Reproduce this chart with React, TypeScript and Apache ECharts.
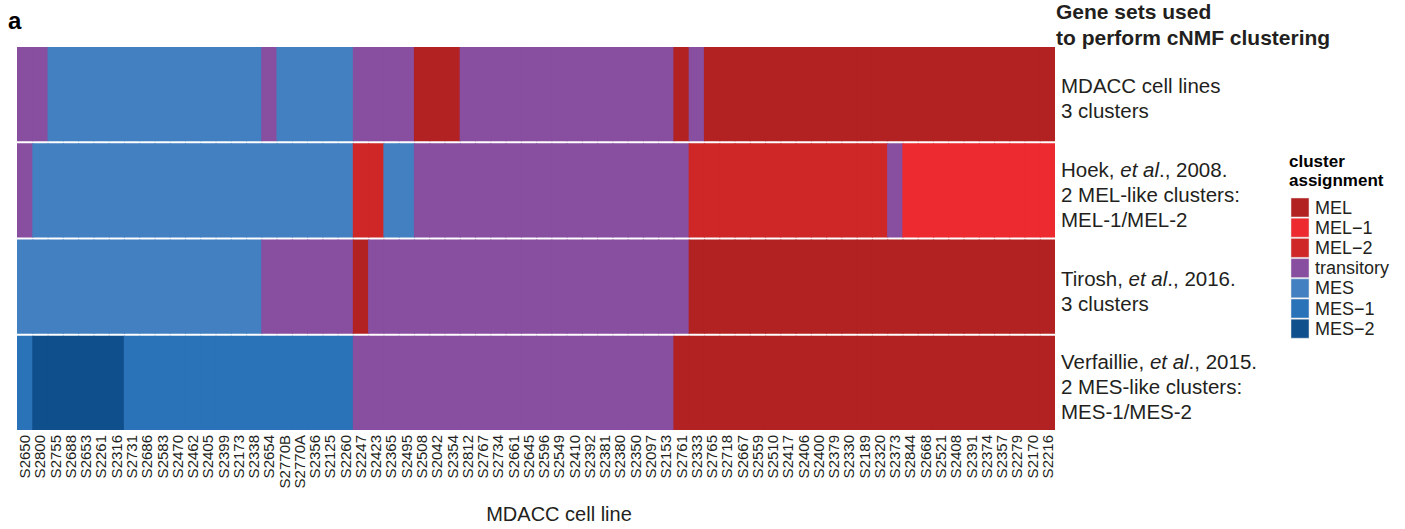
import React, { useEffect, useRef } from "react";
import * as echarts from "echarts";

const FONT = "'Liberation Sans', Arial, Helvetica, sans-serif";
const TXT = "#231f20";

const cellLines = [
  "S2650", "S2800", "S2755", "S2688", "S2653", "S2261", "S2316", "S2731", "S2686", "S2583",
  "S2470", "S2462", "S2405", "S2399", "S2173", "S2338", "S2654", "S2770B", "S2770A", "S2356",
  "S2125", "S2260", "S2247", "S2423", "S2365", "S2495", "S2508", "S2042", "S2354", "S2812",
  "S2767", "S2734", "S2661", "S2645", "S2596", "S2549", "S2410", "S2392", "S2381", "S2380",
  "S2350", "S2097", "S2153", "S2761", "S2333", "S2765", "S2718", "S2667", "S2559", "S2510",
  "S2417", "S2406", "S2400", "S2379", "S2330", "S2189", "S2320", "S2373", "S2844", "S2668",
  "S2521", "S2408", "S2391", "S2374", "S2357", "S2279", "S2170", "S2216",
];

const clusters = ["MEL", "MEL\u22121", "MEL\u22122", "transitory", "MES", "MES\u22121", "MES\u22122"];
const clusterColors = ["#b22222", "#ed2a2f", "#cf2627", "#884ea0", "#4380c2", "#2a73b9", "#0f4f8c"];

// codes: A=MEL, B=MEL-1, C=MEL-2, T=transitory, M=MES, M1=MES-1, M2=MES-2
const A = 0, B = 1, C = 2, T = 3, M = 4, M1 = 5, M2 = 6;

const rowNames = ["MDACC", "Hoek", "Tirosh", "Verfaillie"];

const mdacc = [
  T, T, M, M, M, M, M, M, M, M,
  M, M, M, M, M, M, T, M, M, M,
  M, M, T, T, T, T, A, A, A, T,
  T, T, T, T, T, T, T, T, T, T,
  T, T, T, A, T, A, A, A, A, A,
  A, A, A, A, A, A, A, A, A, A,
  A, A, A, A, A, A, A, A,
];
const hoek = [
  T, M, M, M, M, M, M, M, M, M,
  M, M, M, M, M, M, M, M, M, M,
  M, M, C, C, M, M, T, T, T, T,
  T, T, T, T, T, T, T, T, T, T,
  T, T, T, T, C, C, C, C, C, C,
  C, C, C, C, C, C, C, T, B, B,
  B, B, B, B, B, B, B, B,
];
const tirosh = [
  M, M, M, M, M, M, M, M, M, M,
  M, M, M, M, M, M, T, T, T, T,
  T, T, A, T, T, T, T, T, T, T,
  T, T, T, T, T, T, T, T, T, T,
  T, T, T, T, A, A, A, A, A, A,
  A, A, A, A, A, A, A, A, A, A,
  A, A, A, A, A, A, A, A,
];
const verfaillie = [
  M1, M2, M2, M2, M2, M2, M2, M1, M1, M1,
  M1, M1, M1, M1, M1, M1, M1, M1, M1, M1,
  M1, M1, T, T, T, T, T, T, T, T,
  T, T, T, T, T, T, T, T, T, T,
  T, T, T, A, A, A, A, A, A, A,
  A, A, A, A, A, A, A, A, A, A,
  A, A, A, A, A, A, A, A,
];

const rowLabels: Record<string, string> = {
  MDACC: "MDACC cell lines\n3 clusters",
  Hoek: "Hoek, {i|et al}., 2008.\n2 MEL-like clusters:\nMEL-1/MEL-2",
  Tirosh: "Tirosh, {i|et al}., 2016.\n3 clusters",
  Verfaillie: "Verfaillie, {i|et al}., 2015.\n2 MES-like clusters:\nMES-1/MES-2",
};

export default function App() {
  const ref = useRef<HTMLDivElement>(null);
  useEffect(() => {
    if (!ref.current) return;
    const chart = echarts.init(ref.current, undefined, { renderer: "svg" });
    const rows = [mdacc, hoek, tirosh, verfaillie];
    const data: number[][] = [];
    rows.forEach((r, yi) => r.forEach((v, xi) => data.push([xi, yi, v])));

    const legendItems: any[] = [];
    clusters.forEach((name, i) => {
      const y = 198 + i * 20.2;
      legendItems.push({
        type: "rect",
        shape: { x: 1291, y, width: 18, height: 19 },
        style: { fill: clusterColors[i], stroke: "#e6e6e6", lineWidth: 0.5 },
      });
      legendItems.push({
        type: "text",
        x: 1315,
        y: y + 9.5,
        style: { text: name, font: `18px ${FONT}`, fill: TXT, textVerticalAlign: "middle", verticalAlign: "middle" },
      });
    });

    chart.setOption({
      animation: false,
      grid: { left: 17, right: 350, top: 46, bottom: 98, containLabel: false },
      xAxis: {
        type: "category",
        data: cellLines,
        axisLine: { show: false },
        axisTick: { show: false },
        splitLine: { show: false },
        axisLabel: {
          interval: 0,
          rotate: 90,
          margin: 4,
          fontSize: 15,
          fontFamily: FONT,
          color: TXT,
        },
      },
      yAxis: {
        type: "category",
        data: rowNames,
        inverse: true,
        position: "right",
        axisLine: { show: false },
        axisTick: { show: false },
        splitLine: { show: false },
        axisLabel: {
          margin: 6,
          align: "left",
          fontSize: 20.5,
          lineHeight: 25,
          padding: [8, 0, 0, 0],
          fontFamily: FONT,
          color: TXT,
          formatter: (v: string) => rowLabels[v],
          rich: {
            i: { fontStyle: "italic", fontSize: 20.5, lineHeight: 25, fontFamily: FONT, color: TXT },
          },
        },
      },
      series: [
        {
          type: "custom",
          data,
          encode: { x: 0, y: 1 },
          renderItem: (params: any, api: any) => {
            const c = api.coord([api.value(0), api.value(1)]);
            const s = api.size([1, 1]);
            const extra = api.value(0) < cellLines.length - 1 ? 1.2 : 0;
            return {
              type: "rect",
              shape: { x: c[0] - s[0] / 2, y: c[1] - s[1] / 2 + 1, width: s[0] + extra, height: s[1] - 2 },
              style: { fill: clusterColors[api.value(2)] },
            };
          },
        },
      ],
      graphic: [
        {
          type: "text",
          left: 8,
          top: 8,
          style: { text: "a", font: `bold 24px ${FONT}`, fill: "#000" },
        },
        {
          type: "text",
          left: 1056,
          top: -2,
          style: {
            text: "Gene sets used\nto perform cNMF clustering",
            font: `bold 21px ${FONT}`,
            lineHeight: 26,
            fill: TXT,
          },
        },
        {
          type: "text",
          left: 1289,
          top: 152,
          style: { text: "cluster\nassignment", font: `bold 17px ${FONT}`, lineHeight: 19, fill: "#000" },
        },
        {
          type: "text",
          x: 559,
          y: 514,
          style: {
            text: "MDACC cell line",
            font: `20px ${FONT}`,
            fill: TXT,
            align: "center",
            textAlign: "center",
            verticalAlign: "middle",
            textVerticalAlign: "middle",
          },
        },
        ...legendItems,
      ],
    });
    return () => chart.dispose();
  }, []);
  return <div ref={ref} style={{ position: "absolute", left: 0, top: 0, width: 1405, height: 529 }} />;
}
